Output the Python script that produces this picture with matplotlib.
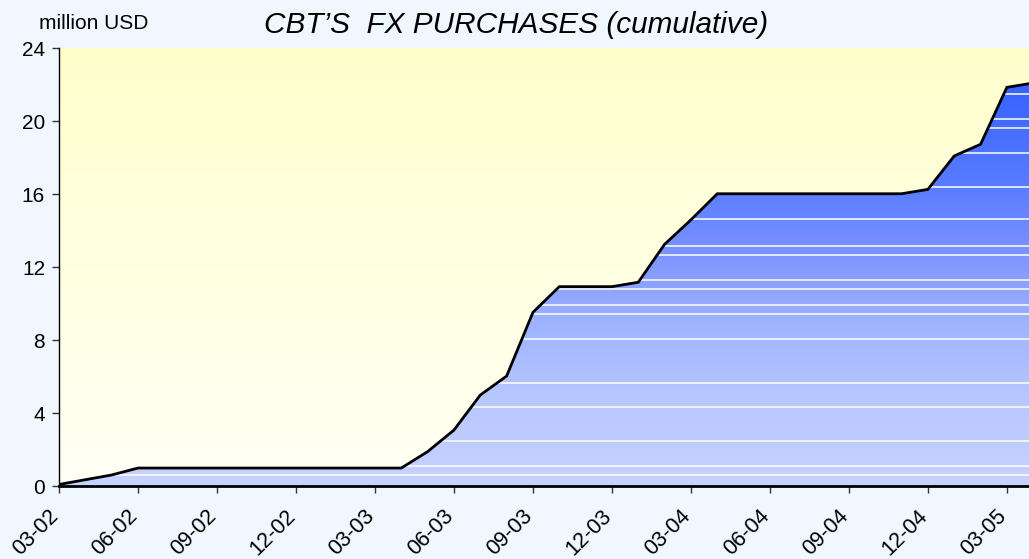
import numpy as np
import matplotlib.pyplot as plt
import matplotlib.transforms as mtransforms
from matplotlib.colors import LinearSegmentedColormap
from matplotlib.patches import Polygon

# cumulative FX purchases, million USD (vertices)
months = ['2002-03', '2002-05', '2002-06', '2003-04', '2003-05', '2003-06', '2003-07',
          '2003-08', '2003-09', '2003-10', '2003-12', '2004-01', '2004-02', '2004-03',
          '2004-04', '2004-11', '2004-12', '2005-01', '2005-02', '2005-03', '2005-04']
values = [0.1, 0.62, 1.0, 1.0, 1.9, 3.08, 5.0,
          6.04, 9.53, 10.94, 10.94, 11.18, 13.26, 14.6,
          16.03, 16.03, 16.27, 18.1, 18.74, 21.86, 22.1]

tick_labels = ['03-02', '06-02', '09-02', '12-02', '03-03', '06-03', '09-03',
               '12-03', '03-04', '06-04', '09-04', '12-04', '03-05']
y_ticks = [0, 4, 8, 12, 16, 20, 24]

# white banding seen inside the filled area
band_levels = [0.6, 1.1, 2.47, 4.33, 5.68, 8.05, 9.44, 9.93, 10.79, 11.29,
               12.66, 13.15, 14.63, 16.38, 18.25, 19.62, 20.1, 21.48]


def month_index(s):
    y, m = s.split('-')
    return (int(y) - 2002) * 12 + int(m) - 3


x = np.array([month_index(m) for m in months], dtype=float)
y = np.array(values)
x_max = 36.84

fig = plt.figure(figsize=(10.29, 5.59), dpi=100, facecolor='#f1f7fe')
ax = fig.add_axes([59 / 1029, 1 - 486.3 / 559, 1 - 59 / 1029, 438 / 559])
ax.set_xlim(0, x_max)
ax.set_ylim(0, 24)

# yellow-to-white plot background
bg = LinearSegmentedColormap.from_list('bg', ['#fffff6', '#ffffcc'])
grad = np.linspace(0, 1, 256).reshape(-1, 1)
ax.imshow(grad, extent=[0, x_max, 0, 24], origin='lower', aspect='auto', cmap=bg, zorder=0)

# blue gradient area
poly = Polygon(np.column_stack([np.r_[x[0], x, x[-1]], np.r_[0, y, 0]]),
               closed=True, facecolor='none', edgecolor='none', transform=ax.transData)
ax.add_patch(poly)
blue = LinearSegmentedColormap.from_list(
    'blue', [(0, '#c8d2ff'), (5 / 22, '#b6c6ff'), (9 / 22, '#9eb2ff'),
             (13 / 22, '#7a92ff'), (16 / 22, '#5c7eff'), (1, '#3563ff')])
im = ax.imshow(grad, extent=[0, x[-1], 0, 22], origin='lower', aspect='auto',
               cmap=blue, zorder=1)
im.set_clip_path(poly)

for lv in band_levels:
    ln = ax.axhline(lv, color='white', lw=1.1, zorder=2)
    ln.set_clip_path(poly)

ax.plot(x, y, color='black', lw=2.0, zorder=3, solid_joinstyle='miter')

tick_pos = np.arange(0, 37, 3)
ax.set_xticks(tick_pos)
ax.set_xticklabels(tick_labels, rotation=45, ha='right', va='top', rotation_mode='anchor')
ax.set_yticks(y_ticks)

for s in ['top', 'right']:
    ax.spines[s].set_visible(False)
ax.spines['left'].set_linewidth(1.0)
ax.spines['bottom'].set_linewidth(2.0)
ax.tick_params(axis='both', direction='out', length=5, width=1, color='#333333',
               labelsize=15, pad=5)
ax.tick_params(axis='x', pad=9, labelsize=15.5)
shift = mtransforms.ScaledTranslation(-11 / 100, 0, fig.dpi_scale_trans)
for lab in ax.get_xticklabels():
    lab.set_transform(lab.get_transform() + shift)
for lab in ax.get_xticklabels() + ax.get_yticklabels():
    lab.set_family('Liberation Sans')

fig.text(94 / 1029, 1 - 29.3 / 559, 'million USD', ha='center', va='baseline',
         fontsize=15, family='Liberation Sans')
fig.text(516.5 / 1029, 1 - 33.3 / 559, 'CBT’S  FX PURCHASES (cumulative)', ha='center',
         va='baseline', fontsize=21.4, style='italic', family='Liberation Sans')

fig.savefig('out.png', dpi=100, facecolor=fig.get_facecolor())
